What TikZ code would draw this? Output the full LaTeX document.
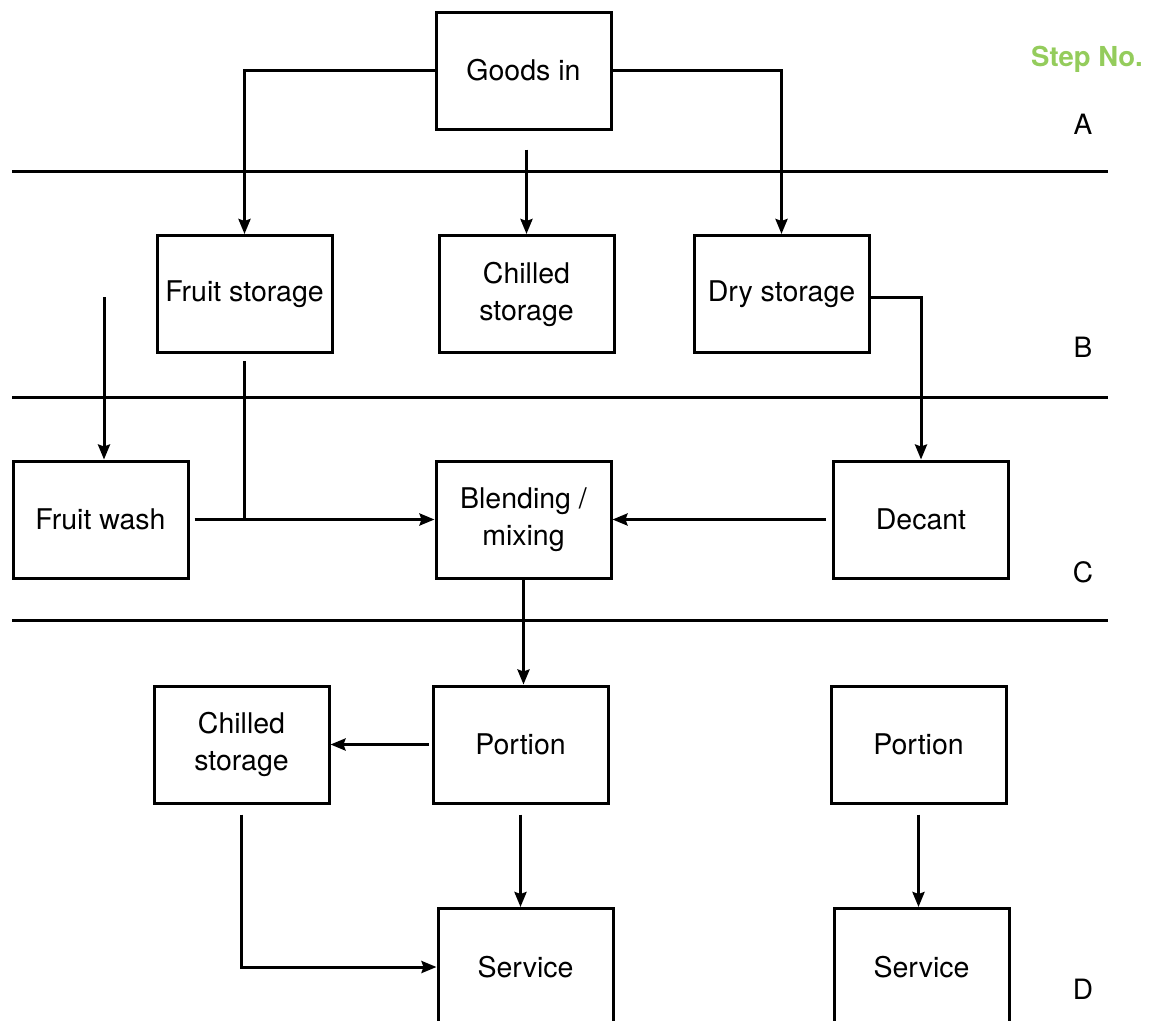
\documentclass[tikz,border=0pt]{standalone}
\usepackage{fontspec}
\setmainfont{TeX Gyre Heros}
\usetikzlibrary{arrows.meta}
\definecolor{stepgreen}{RGB}{148,204,92}
\tikzset{
  box/.style={draw, line width=3pt, minimum width=175pt, minimum height=117pt, inner sep=0pt, align=center, font=\fontsize{28.5}{37}\selectfont},
  conn/.style={line width=3pt},
  arr/.style={conn, -{Stealth[length=15pt,width=12pt,inset=2pt]}},
  sep/.style={line width=3pt},
  lab/.style={font=\fontsize{28}{30}\selectfont, inner sep=0pt}
}
\begin{document}
\begin{tikzpicture}[x=1pt,y=-1pt]
\path[use as bounding box, clip] (0,0) rectangle (1153,1020);
% separators
\coordinate (s1a) at (12,171); \coordinate (s1b) at (1108,171);
\coordinate (s2a) at (12,397); \coordinate (s2b) at (1108,397);
\coordinate (s3a) at (12,620); \coordinate (s3b) at (1108,620);
\draw[sep] (s1a) -- (s1b);
\draw[sep] (s2a) -- (s2b);
\draw[sep] (s3a) -- (s3b);
% nodes
\node[box] (goods) at (523.5,70.5) {Goods in};
\node[box] (fruit) at (244.5,294) {Fruit storage};
\node[box] (chill) at (526.5,294) {Chilled\\storage};
\node[box] (dry) at (781.5,294) {Dry storage};
\node[box] (wash) at (100.5,519.5) {Fruit wash};
\node[box] (blend) at (523.5,519.5) {Blending /\\mixing};
\node[box] (decant) at (921,519.5) {Decant};
\node[box] (chill2) at (241.5,744.5) {Chilled\\storage};
\node[box] (portion) at (520.5,744.5) {Portion};
\node[box] (portion2) at (918.5,744.5) {Portion};
\node[box] (service) at (525.5,967) {Service};
\node[box] (service2) at (921.5,967) {Service};
% labels
\node[lab, text=stepgreen, font=\fontsize{27.5}{30}\selectfont\bfseries] (stepno) at (1087,59) {Step No.};
\node[lab] (la) at (1083,124) {A};
\node[lab] (lb) at (1083,347) {B};
\node[lab] (lc) at (1083,572) {C};
\node[lab] (ld) at (1083,989) {D};
% connectors
\draw[arr] (goods.west) -| (fruit.north);
\draw[arr] (goods.east) -| (dry.north);
\draw[arr, shorten <=19pt] (goods.south -| chill.north) -- (chill.north);
\coordinate (washin) at (104,297);
\draw[arr] (washin) -- (washin |- wash.north);
\coordinate (fj) at (fruit.south |- wash.east);
\draw[conn, shorten <=7pt] (fruit.south) -- (fj);
\draw[arr, shorten <=5pt] (wash.east) -- (blend.west);
\draw[arr, shorten <=6pt] (decant.west) -- (blend.west -| blend.east);
\draw[arr] ([yshift=-3pt]dry.east) -| (decant.north);
\draw[arr] (blend.south) -- (blend.south |- portion.north);
\draw[arr, shorten <=3pt] (portion.west) -- (chill2.east);
\draw[arr, shorten <=10pt] (portion.south) -- (portion.south |- service.north);
\coordinate (cj) at (chill2.south |- service.west);
\draw[arr, shorten <=10pt] (chill2.south) -- (cj) -- (service.west);
\draw[arr, shorten <=10pt] (portion2.south) -- (portion2.south |- service2.north);
\end{tikzpicture}
\end{document}
